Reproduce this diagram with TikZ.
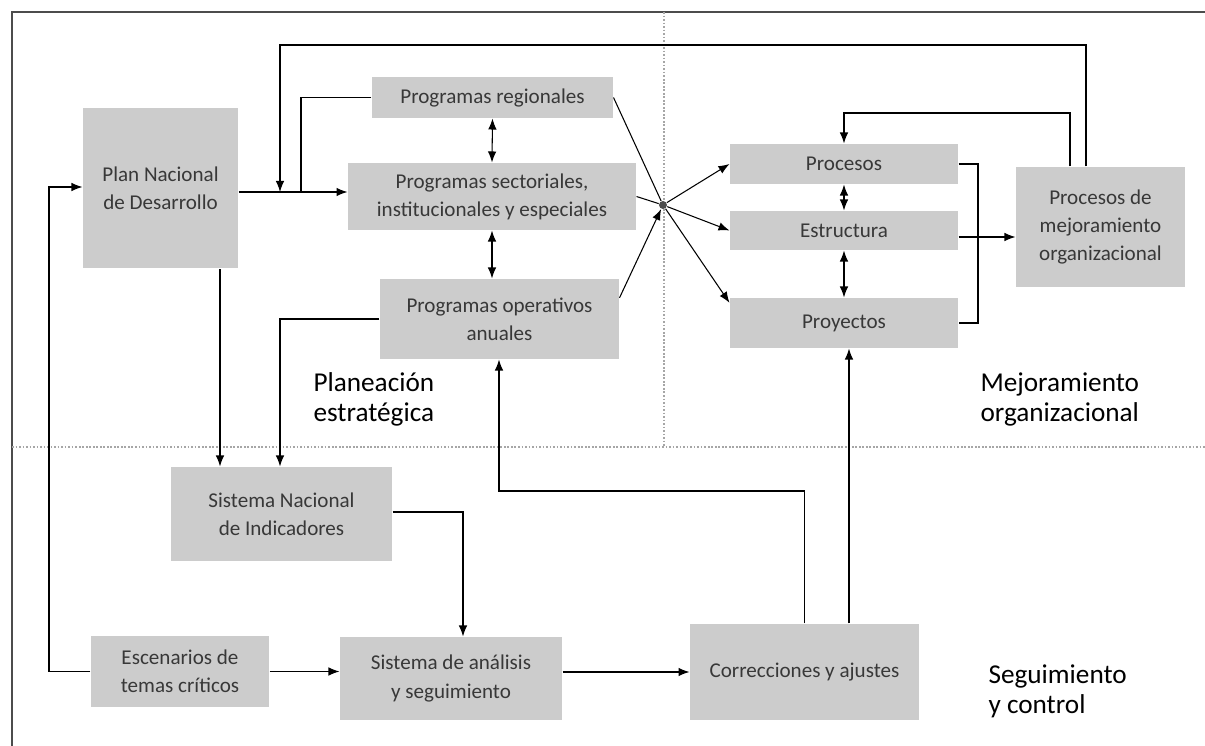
\documentclass[tikz,border=0pt]{standalone}
\usepackage{fontspec}
\setmainfont{Carlito}
\usepackage{tikz}
\usetikzlibrary{arrows.meta, positioning}
\definecolor{boxfill}{gray}{0.8}
\definecolor{boxtext}{gray}{0.22}
\tikzset{caja/.style={fill=boxfill, text=boxtext, align=center, inner sep=0pt, font=\fontsize{12}{16}\selectfont}}
\tikzset{region/.style={anchor=north west, align=left, inner sep=0pt, font=\fontsize{15.5}{17}\selectfont}}
\tikzset{divisor/.style={gray!70, densely dotted, line width=1pt}}

\begin{document}
\begin{tikzpicture}[x=0.02cm, y=-0.02cm, >={Latex[length=2.2mm, width=1.7mm]}, line width=0.6pt]
\useasboundingbox (0,0) rectangle (1205,746);
% marco y zonas
\draw [gray!60!black, line width=1.2pt] (12,746) -- (12,12) -- (1205,12);
\draw [divisor] (12,447) -- (1205,447);
\draw [divisor] (664,12) -- (664,447);
\node[region] (lplan) at (313,372) {Planeación\\estratégica};
\node[region] (lmej) at (980,372) {Mejoramiento\\organizacional};
\node[region] (lseg) at (988,664) {Seguimiento\\y control};
% cajas
\node[caja, minimum width=3.1cm, minimum height=3.22cm] (plan) at (160.5,188) {Plan Nacional\\de Desarrollo};
\node[caja, minimum width=4.82cm, minimum height=0.82cm] (reg) at (492.5,97.5) {Programas regionales};
\node[caja, minimum width=5.76cm, minimum height=1.34cm] (sect) at (492,196.5) {Programas sectoriales,\\institucionales y especiales};
\node[caja, minimum width=4.78cm, minimum height=1.6cm] (poa) at (499.5,319) {Programas operativos\\anuales};
\node[caja, minimum width=4.56cm, minimum height=0.8cm] (procesos) at (844,164) {Procesos};
\node[caja, minimum width=4.56cm, minimum height=0.78cm] (estructura) at (844,230.5) {Estructura};
\node[caja, minimum width=4.56cm, minimum height=1.0cm] (proyectos) at (844,323) {Proyectos};
\node[caja, minimum width=3.38cm, minimum height=2.4cm] (mejora) at (1100.5,227) {Procesos de\\mejoramiento\\organizacional};
\node[caja, minimum width=4.42cm, minimum height=1.88cm] (sni) at (281.5,514) {Sistema Nacional\\de Indicadores};
\node[caja, minimum width=3.56cm, minimum height=1.42cm] (escen) at (180,671.5) {Escenarios de\\temas críticos};
\node[caja, minimum width=4.44cm, minimum height=1.66cm] (analisis) at (451,678.5) {Sistema de análisis\\y seguimiento};
\node[caja, minimum width=4.58cm, minimum height=1.92cm] (correc) at (804.5,672) {Correcciones y ajustes};
\node[circle, fill=gray!60!black, minimum size=0.16cm, inner sep=0pt] (hub) at (663,205) {};
% puntos de paso
\coordinate (m1) at (280,192);
\coordinate (m2) at (301,192);
\coordinate (m3) at (49,187);
\coordinate (m4) at (220,0);
\coordinate (m6) at (463,512);
\coordinate (m7) at (499,491);
\coordinate (m8) at (849,0);
\coordinate (m9) at (0,237);
\coordinate (t1) at (1086,45);
\coordinate (t2) at (1070,113);
\coordinate (b1) at (978,0);
% conectores planeacion
\draw [->] (m1 -| plan.east) -- (m1 -| sect.west);
\draw [->] (mejora.north -| t1) |- (m1 |- t1) -- (m1);
\draw (reg.west) -| (m2);
\draw [->] (escen.west) -| (m3) -- (m3 -| plan.west);
\draw [<->] (reg.south) -- (sect.north);
\draw [<->] (sect.south) -- (sect.south |- poa.north);
\draw (reg.east) -- (hub);
\draw (sect.east) -- (hub);
\draw [->] (poa.10) -- (hub);
% conectores mejoramiento
\draw [->] (hub) -- (procesos.west);
\draw [->] (hub) -- (estructura.west);
\draw [->] (hub) -- (proyectos.170);
\draw [<->] (procesos.south) -- (estructura.north);
\draw [<->] (estructura.south) -- (proyectos.north);
\draw [->] (mejora.north -| t2) |- (procesos.north |- t2) -- (procesos.north);
\draw (procesos.east) -| (b1 |- proyectos.east) -- (proyectos.east);
\draw [->] (m9 -| estructura.east) -- (m9 -| mejora.west);
% conectores seguimiento
\draw [->] (plan.south -| m4) -- (sni.north -| m4);
\draw [->] (poa.west) -| (sni.north -| m1);
\draw [->] (m6 -| sni.east) -| (analisis.north -| m6);
\draw [->] (escen.east) -- (escen.east -| analisis.west);
\draw [->] (analisis.east |- correc.west) -- (correc.west);
\draw [->] (correc.north) |- (m7) -- (poa.south -| m7);
\draw [->] (correc.north -| m8) -- (proyectos.south -| m8);
\end{tikzpicture}
\end{document}
